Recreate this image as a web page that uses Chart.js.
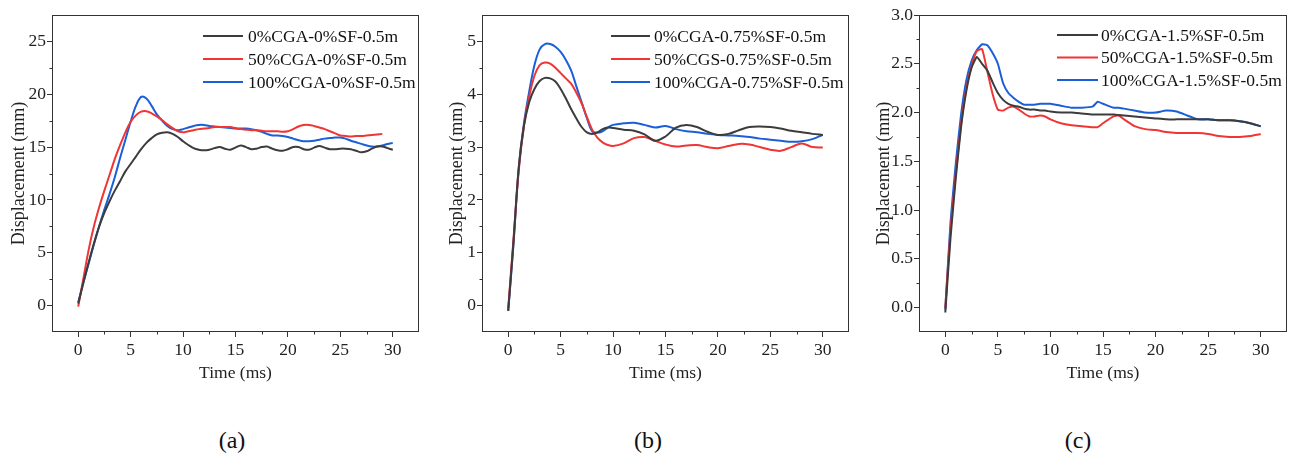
<!DOCTYPE html>
<html>
<head>
<meta charset="utf-8">
<script src="https://cdn.jsdelivr.net/npm/chart.js@4.4.0/dist/chart.umd.min.js"></script>
<style>
  html, body { margin: 0; padding: 0; background: #fff; }
  body { width: 1290px; height: 461px; position: relative; overflow: hidden; }
  .panel { position: absolute; top: 0; width: 430px; height: 400px; }
  .cap { position: absolute; top: 427px; width: 100px; text-align: center;
         font: 24px "Liberation Serif", "Times New Roman", serif; color: #111; line-height: 26px; }
</style>
</head>
<body>
<div class="panel" style="left:0px"><canvas id="chartA"></canvas></div>
<div class="panel" style="left:430px"><canvas id="chartB"></canvas></div>
<div class="panel" style="left:860px"><canvas id="chartC"></canvas></div>
<div class="cap" style="left:182px">(a)</div>
<div class="cap" style="left:598px">(b)</div>
<div class="cap" style="left:1028px">(c)</div>
<script>
// time axes (ms)
const timeA = [0,0.5,1,1.5,2,2.5,3,3.5,4,4.5,5,5.5,6,6.5,7,7.5,8,8.5,9,9.5,10,10.5,11,11.5,12,12.5,13,13.5,14,14.5,15,15.5,16,16.5,17,17.5,18,18.5,19,19.5,20,20.5,21,21.5,22,22.5,23,23.5,24,24.5,25,25.5,26,26.5,27,27.5,28,28.5,29,29.5,30]
const timeB = [0,0.5,1,1.5,2,2.5,3,3.5,4,4.5,5,5.5,6,6.5,7,7.5,8,8.5,9,9.5,10,11,12,13,14,15,16,17,18,19,20,21,22,23,24,25,26,27,28,29,30]
const timeC = [0,0.5,1,1.5,2,2.5,3,3.5,4,4.5,5,5.5,6,6.5,7,7.5,8,8.5,9,9.5,10,11,12,13,14,14.5,15,16,16.5,17,18,19,20,21,22,23,24,25,26,27,28,29,30]

// (a) 0%SF
const a0 = [0.2,2.2,4.1,5.9,7.5,8.8,9.9,10.9,11.8,12.7,13.4,14.1,14.8,15.4,15.85,16.2,16.35,16.4,16.25,15.95,15.55,15.2,14.9,14.75,14.7,14.75,14.9,15.0,14.85,14.75,14.95,15.15,15.0,14.8,14.85,15.0,15.05,14.85,14.7,14.65,14.8,15.0,15.0,14.8,14.75,14.95,15.1,14.95,14.8,14.8,14.85,14.85,14.8,14.65,14.5,14.6,14.85,15.05,15.05,14.9,14.75]
const a50 = [-0.1,2.6,5.3,7.5,9.3,10.9,12.4,13.9,15.2,16.4,17.4,18.0,18.35,18.4,18.2,17.9,17.55,17.15,16.8,16.5,16.4,16.5,16.6,16.7,16.75,16.8,16.9,16.9,16.9,16.9,16.8,16.7,16.65,16.6,16.6,16.55,16.5,16.5,16.5,16.45,16.5,16.7,16.95,17.1,17.1,17.0,16.85,16.7,16.5,16.3,16.1,16.05,16.0,16.05,16.05,16.1,16.15,16.2,16.25,null,null]
const a100 = [0.3,2.2,4.0,5.8,7.5,9.1,10.6,12.2,14.0,15.7,17.4,18.9,19.75,19.6,18.9,18.1,17.5,17.0,16.7,16.6,16.7,16.85,17.0,17.1,17.1,17.0,16.95,16.9,16.85,16.8,16.75,16.75,16.75,16.7,16.6,16.45,16.25,16.1,16.1,16.05,15.95,15.8,15.65,15.55,15.55,15.6,15.7,15.8,15.85,15.9,15.9,15.8,15.6,15.45,15.3,15.15,15.05,15.05,15.15,15.3,15.4]

// (b) 0.75%SF
const b0 = [-0.1,1.2,2.6,3.4,3.85,4.1,4.25,4.31,4.3,4.24,4.1,3.92,3.72,3.54,3.38,3.28,3.25,3.28,3.34,3.37,3.36,3.33,3.31,3.24,3.12,3.2,3.37,3.42,3.38,3.29,3.23,3.25,3.32,3.38,3.39,3.38,3.35,3.31,3.28,3.25,3.23]
const b50 = [-0.05,1.25,2.55,3.4,3.95,4.35,4.55,4.6,4.58,4.5,4.4,4.3,4.2,4.03,3.83,3.57,3.33,3.18,3.09,3.04,3.02,3.07,3.17,3.19,3.12,3.05,3.01,3.03,3.04,3.0,2.98,3.02,3.06,3.05,3.0,2.95,2.93,3.0,3.07,3.0,2.99]
const b100 = [-0.1,1.15,2.6,3.45,4.05,4.55,4.85,4.95,4.95,4.9,4.8,4.65,4.45,4.15,3.85,3.55,3.3,3.27,3.3,3.37,3.42,3.45,3.46,3.42,3.37,3.4,3.34,3.3,3.28,3.25,3.23,3.22,3.21,3.19,3.16,3.14,3.12,3.1,3.11,3.15,3.23]

// (c) 1.5%SF
const c0 = [-0.05,0.72,1.33,1.85,2.22,2.46,2.57,2.5,2.43,2.31,2.2,2.13,2.09,2.07,2.06,2.04,2.03,2.03,2.02,2.02,2.01,2.0,2.0,1.99,1.98,1.98,1.98,1.98,1.975,1.97,1.96,1.95,1.94,1.93,1.93,1.93,1.93,1.93,1.92,1.92,1.91,1.89,1.86]
const c50 = [0.0,0.8,1.38,1.88,2.25,2.48,2.63,2.65,2.42,2.19,2.03,2.02,2.05,2.06,2.03,1.99,1.96,1.96,1.97,1.96,1.93,1.89,1.87,1.86,1.85,1.85,1.89,1.96,1.97,1.93,1.86,1.83,1.82,1.8,1.79,1.79,1.79,1.78,1.76,1.75,1.75,1.76,1.78]
const c100 = [-0.02,0.88,1.48,1.98,2.33,2.53,2.64,2.7,2.69,2.61,2.5,2.3,2.2,2.15,2.11,2.08,2.08,2.08,2.09,2.09,2.09,2.07,2.05,2.05,2.06,2.11,2.09,2.05,2.05,2.04,2.02,2.0,2.0,2.02,2.01,1.97,1.93,1.93,1.92,1.92,1.91,1.89,1.86]

const labelsA = ['0%CGA-0%SF-0.5m', '50%CGA-0%SF-0.5m', '100%CGA-0%SF-0.5m']
const labelsB = ['0%CGA-0.75%SF-0.5m', '50%CGS-0.75%SF-0.5m', '100%CGA-0.75%SF-0.5m']
const labelsC = ['0%CGA-1.5%SF-0.5m', '50%CGA-1.5%SF-0.5m', '100%CGA-1.5%SF-0.5m']

const colors = ['#3c3c3c', '#f03535', '#1a5fd8']
const FONT = '"Liberation Serif", "Times New Roman", serif'
const AXIS = '#333'

Chart.defaults.font.family = FONT
Chart.defaults.color = '#222'

const points = (time, vals) => time.map((t, i) => ({ x: t, y: vals[i] })).filter(p => p.y !== null)

// box frame, minor ticks and the inside legend
const extras = {
  id: 'extras',
  afterDraw(chart, args, opts) {
    const { ctx, chartArea: a } = chart
    const xs = chart.scales.x, ys = chart.scales.y
    ctx.save()
    ctx.strokeStyle = AXIS
    ctx.lineWidth = 1
    const L = Math.round(a.left) + 0.5, R = Math.round(a.right) - 0.5
    const T = Math.round(a.top) + 0.5, B = Math.round(a.bottom) - 0.5
    ctx.strokeRect(L, T, R - L, B - T)

    const minor = (scale, step, draw) => {
      for (let v = Math.ceil(scale.min / step) * step; v <= scale.max + 1e-9; v += step) {
        const k = v / (2 * step)
        if (Math.abs(k - Math.round(k)) < 1e-6) continue
        draw(scale.getPixelForValue(v))
      }
    }
    ctx.beginPath()
    minor(xs, opts.xMinor, px => {
      if (px < a.left + 2 || px > a.right - 2) return
      ctx.moveTo(Math.round(px) + 0.5, B); ctx.lineTo(Math.round(px) + 0.5, B + 3)
    })
    minor(ys, opts.yMinor, py => {
      if (py < a.top + 2 || py > a.bottom - 2) return
      ctx.moveTo(L, Math.round(py) + 0.5); ctx.lineTo(L - 3, Math.round(py) + 0.5)
    })
    ctx.stroke()

    const lg = opts.legend
    ctx.font = '17.5px ' + FONT
    ctx.textBaseline = 'middle'
    ctx.textAlign = 'left'
    chart.data.datasets.forEach((ds, i) => {
      const y = lg.y + i * lg.dy
      ctx.strokeStyle = ds.borderColor
      ctx.lineWidth = 2
      ctx.beginPath()
      ctx.moveTo(lg.x, y); ctx.lineTo(lg.x + lg.len, y)
      ctx.stroke()
      ctx.fillStyle = '#111'
      ctx.fillText(ds.label, lg.x + lg.len + lg.gap, y + 1)
    })
    ctx.restore()
  }
}

function makeChart(id, time, series, labels, cfg) {
  const ctx = document.getElementById(id).getContext('2d')
  return new Chart(ctx, {
    type: 'line',
    data: {
      datasets: series.map((vals, i) => ({
        label: labels[i],
        data: points(time, vals),
        borderColor: colors[i],
        backgroundColor: colors[i],
        borderWidth: 2,
        pointRadius: 0,
        fill: false,
        tension: cfg.tension
      }))
    },
    options: {
      responsive: true,
      maintainAspectRatio: false,
      animation: false,
      devicePixelRatio: 1,
      layout: { padding: { top: 15, right: cfg.padRight, left: 0, bottom: 0 } },
      plugins: {
        legend: { display: false },
        tooltip: { enabled: false },
        extras: { xMinor: 2.5, yMinor: cfg.yMinor, legend: cfg.legend }
      },
      scales: {
        x: {
          type: 'linear',
          min: -2.5,
          max: 32.5,
          afterFit: s => { s.height = 68 },
          afterBuildTicks: s => { s.ticks = [0, 5, 10, 15, 20, 25, 30].map(v => ({ value: v })) },
          ticks: { font: { size: 17.5 }, padding: 3, color: '#222', maxRotation: 0 },
          grid: { drawOnChartArea: false, drawTicks: true, tickLength: 5, tickColor: AXIS, color: AXIS },
          border: { display: false },
          title: { display: true, text: 'Time (ms)', font: { size: 17.5 }, color: '#222', padding: { top: 0, bottom: 16 } }
        },
        y: {
          type: 'linear',
          min: cfg.yMin,
          max: cfg.yMax,
          afterFit: s => { s.width = cfg.yWidth },
          afterBuildTicks: s => { s.ticks = cfg.yTicks.map(v => ({ value: v })) },
          ticks: { font: { size: 17.5 }, padding: 1, color: '#222', callback: v => cfg.yFmt(v) },
          grid: { drawOnChartArea: false, drawTicks: true, tickLength: 5, tickColor: AXIS, color: AXIS },
          border: { display: false },
          title: { display: true, text: 'Displacement (mm)', font: { size: 18 }, color: '#222', padding: { top: cfg.yTitlePad, bottom: 0 } }
        }
      }
    },
    plugins: [extras]
  })
}

makeChart('chartA', timeA, [a0, a50, a100], labelsA, {
  tension: 0.35, padRight: 11, yWidth: 52, yMin: -2.5, yMax: 27.5, yMinor: 2.5,
  yTicks: [0, 5, 10, 15, 20, 25], yFmt: v => String(v), yTitlePad: 8,
  legend: { x: 203, y: 36, dy: 23, len: 40, gap: 5 }
})
makeChart('chartB', timeB, [b0, b50, b100], labelsB, {
  tension: 0.35, padRight: 11, yWidth: 52, yMin: -0.5, yMax: 5.5, yMinor: 0.5,
  yTicks: [0, 1, 2, 3, 4, 5], yFmt: v => String(v), yTitlePad: 16,
  legend: { x: 181, y: 36, dy: 23, len: 39, gap: 4 }
})
makeChart('chartC', timeC, [c0, c50, c100], labelsC, {
  tension: 0.15, padRight: 3, yWidth: 59, yMin: -0.25, yMax: 3.0, yMinor: 0.25,
  yTicks: [0, 0.5, 1, 1.5, 2, 2.5, 3], yFmt: v => v.toFixed(1), yTitlePad: 13,
  legend: { x: 197, y: 35, dy: 22.5, len: 41, gap: 3 }
})
</script>
</body>
</html>
